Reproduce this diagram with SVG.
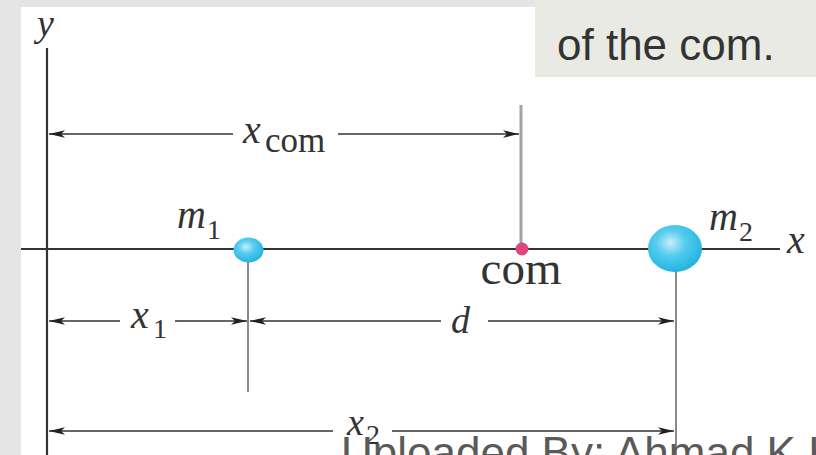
<svg xmlns="http://www.w3.org/2000/svg" width="816" height="455" viewBox="0 0 816 455">
<defs>
<style>
.ax{stroke:#333;stroke-width:2.2;fill:none}
.dim{stroke:#333;stroke-width:1.5;fill:none}
.ref{stroke:#8a8a8a;stroke-width:2;fill:none}
.it{font-family:"Liberation Serif","Times New Roman",serif;font-style:italic;fill:#333}
.rm{font-family:"Liberation Serif","Times New Roman",serif;fill:#333}
.sans{font-family:"Liberation Sans",Arial,sans-serif}
</style>
<marker id="ah" markerUnits="userSpaceOnUse" markerWidth="18" markerHeight="10" refX="16" refY="5" orient="auto-start-reverse">
<path d="M0,1.2 L16,5 L0,8.8 L4,5 Z" fill="#222"/>
</marker>
<radialGradient id="ball" cx="0.42" cy="0.38" r="0.6">
<stop offset="0" stop-color="#c9eef9"/>
<stop offset="0.45" stop-color="#55cdef"/>
<stop offset="1" stop-color="#27b4e2"/>
</radialGradient>
</defs>
<rect x="0" y="0" width="816" height="455" fill="#e5e5e5"/>
<rect x="21" y="7" width="795" height="448" fill="#ffffff"/>
<g id="note">
<rect x="535" y="0" width="281" height="77" fill="#e9eae3"/>
<text x="557" y="60" class="sans" font-size="44" fill="#333">of the com.</text>
</g>
<g id="axes">
<line class="ax" x1="47" y1="48" x2="47" y2="455"/>
<line class="ax" x1="21" y1="249" x2="780" y2="249"/>
<text x="37" y="36" class="it" font-size="38">y</text>
<text x="787" y="253" class="it" font-size="40">x</text>
</g>
<g id="guides">
<line x1="521" y1="105" x2="521" y2="249" stroke="#a3a3a3" stroke-width="3"/>
<line class="ref" x1="248" y1="262" x2="248" y2="392" stroke="#6a6a6a"/>
<line class="ref" x1="676" y1="270" x2="676" y2="455"/>
</g>
<g id="connectors">
<line class="dim" x1="49" y1="134" x2="233" y2="134" marker-start="url(#ah)"/>
<line class="dim" x1="338" y1="134" x2="519" y2="134" marker-end="url(#ah)"/>
<line class="dim" x1="49" y1="321" x2="120" y2="321" marker-start="url(#ah)"/>
<line class="dim" x1="175" y1="321" x2="247" y2="321" marker-end="url(#ah)"/>
<line class="dim" x1="250" y1="321" x2="441" y2="321" marker-start="url(#ah)"/>
<line class="dim" x1="488" y1="321" x2="674" y2="321" marker-end="url(#ah)"/>
<line class="dim" x1="49" y1="431" x2="333" y2="431" marker-start="url(#ah)"/>
<line class="dim" x1="392" y1="431" x2="674" y2="431" marker-end="url(#ah)"/>
</g>
<g id="xcom-label">
<text x="243" y="143" class="it" font-size="40">x</text>
<text x="265" y="152" class="rm" font-size="35">com</text>
</g>
<g id="x1-label">
<text x="131" y="328" class="it" font-size="40">x</text>
<text x="153" y="338" class="rm" font-size="28">1</text>
</g>
<g id="d-label">
<text x="451" y="333" class="it" font-size="38">d</text>
</g>
<g id="x2-label">
<text x="347" y="435" class="it" font-size="38">x</text>
<text x="366" y="444" class="rm" font-size="28">2</text>
</g>
<g id="m1">
<ellipse cx="248.5" cy="250" rx="15" ry="12.5" fill="url(#ball)"/>
<text x="177" y="228" class="it" font-size="40">m</text>
<text x="207" y="239" class="rm" font-size="28">1</text>
</g>
<g id="com">
<circle cx="522" cy="249" r="6.5" fill="#e0457f"/>
<text x="521" y="284" class="rm" font-size="47" text-anchor="middle">com</text>
</g>
<g id="m2">
<ellipse cx="675" cy="248.5" rx="27" ry="23.5" fill="url(#ball)"/>
<text x="709" y="230" class="it" font-size="40">m</text>
<text x="739" y="241" class="rm" font-size="28">2</text>
</g>
<g id="watermark">
<text x="341" y="468" class="sans" font-size="44" fill="#5a5a5a">Uploaded By: Ahmad K H</text>
</g>
</svg>
